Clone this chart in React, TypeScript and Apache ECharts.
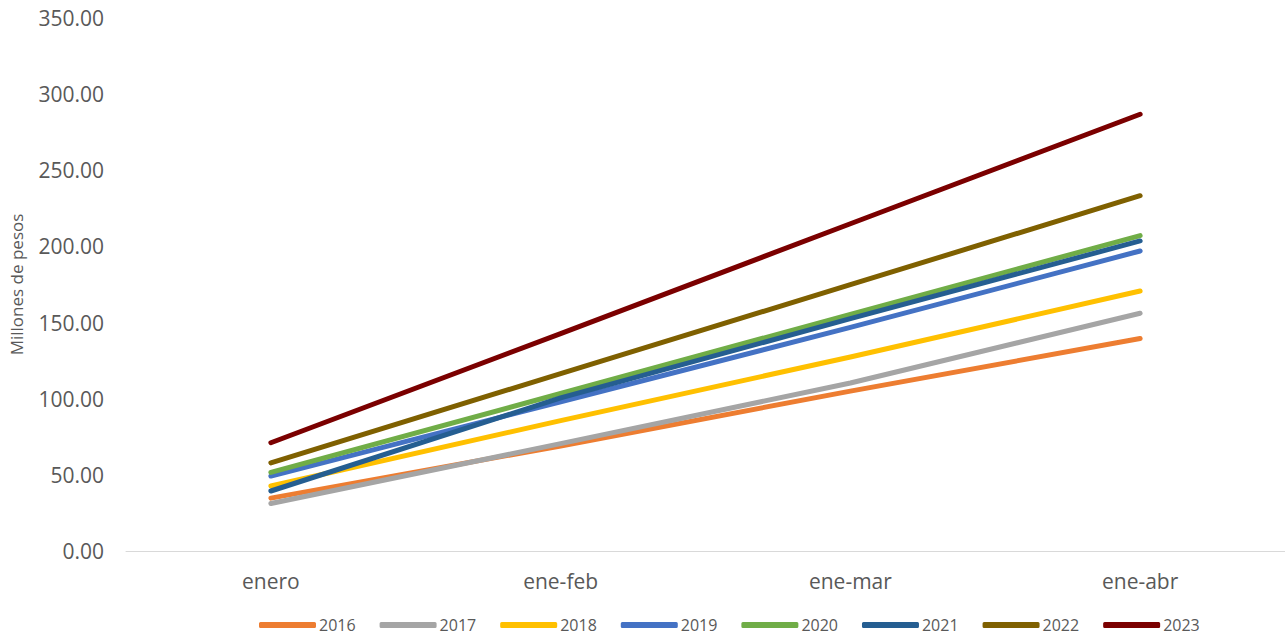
import React, { useEffect, useRef } from "react";
import * as echarts from "echarts";

const categories = ["enero", "ene-feb", "ene-mar", "ene-abr"];
const years = ["2016", "2017", "2018", "2019", "2020", "2021", "2022", "2023"];
const s2016 = [34.7, 69.0, 105.0, 139.5];
const s2017 = [31.2, 70.5, 110.3, 156.1];
const s2018 = [42.7, 85.6, 127.4, 170.7];
const s2019 = [49.2, 98.0, 146.8, 197.0];
const s2020 = [51.6, 103.4, 155.4, 207.1];
const s2021 = [39.4, 100.5, 152.6, 203.6];
const s2022 = [57.9, 116.5, 174.9, 233.3];
const s2023 = [71.1, 142.8, 214.9, 286.8];
const seriesData = [s2016, s2017, s2018, s2019, s2020, s2021, s2022, s2023];
const colors = ["#ED7D31", "#A5A5A5", "#FFC000", "#4472C4", "#70AD47", "#255E91", "#7F6000", "#7B0000"];

export default function App() {
  const ref = useRef<HTMLDivElement>(null);
  useEffect(() => {
    const chart = echarts.init(ref.current!, null, { renderer: "svg" });
    const font = "'Open Sans', sans-serif";
    chart.setOption({
      animation: false,
      grid: { left: 125, right: 0, top: 18, bottom: 84, containLabel: false },
      legend: {
        left: 259,
        top: 617,
        padding: 0,
        itemWidth: 57,
        itemHeight: 6,
        itemGap: 24,
        icon: "roundRect",
        data: years,
        textStyle: { fontFamily: font, fontSize: 16, color: "#595959", padding: [0, 0, 0, -2] },
      },
      xAxis: {
        type: "category",
        data: categories,
        boundaryGap: true,
        axisTick: { show: false },
        axisLine: { lineStyle: { color: "#d9d9d9", width: 1 } },
        axisLabel: { fontFamily: font, fontSize: 21, color: "#595959", margin: 19 },
        splitLine: { show: false },
      },
      yAxis: {
        type: "value",
        min: 0,
        max: 350,
        interval: 50,
        name: "Millones de pesos",
        nameLocation: "middle",
        nameGap: 101,
        nameTextStyle: { fontFamily: font, fontSize: 17, color: "#595959" },
        axisLine: { show: false },
        axisTick: { show: false },
        splitLine: { show: false },
        axisLabel: {
          fontFamily: font,
          fontSize: 21,
          color: "#595959",
          margin: 22,
          formatter: (v: number) => v.toFixed(2),
        },
      },
      series: years.map((y, i) => ({
        name: y,
        type: "line",
        data: seriesData[i],
        symbol: "none",
        color: colors[i],
        lineStyle: { width: 5, color: colors[i], cap: "round", join: "round" },
        itemStyle: { color: colors[i] },
      })),
    });
    return () => chart.dispose();
  }, []);
  return (
    <div
      ref={ref}
      style={{ position: "absolute", left: 0, top: 0, width: 1285, height: 635, background: "#fff" }}
    />
  );
}
